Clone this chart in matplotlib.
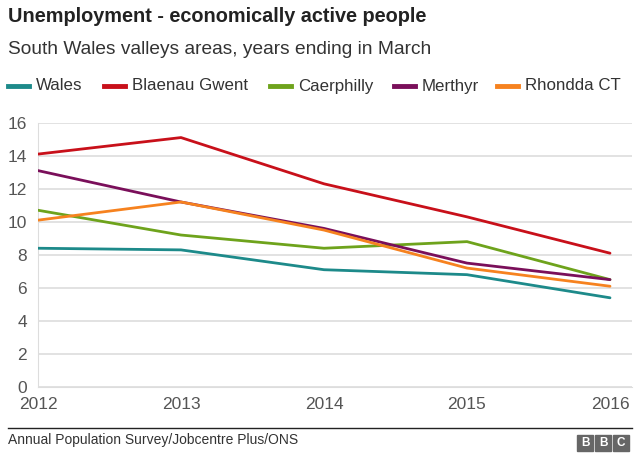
import matplotlib
matplotlib.use("Agg")
import matplotlib.pyplot as plt
from matplotlib.lines import Line2D
from matplotlib.patches import Rectangle

plt.rcParams['font.family'] = ['Liberation Sans', 'DejaVu Sans']

years = [2012, 2013, 2014, 2015, 2016]
series_names = ["Wales", "Blaenau Gwent", "Caerphilly", "Merthyr", "Rhondda CT"]
wales = [8.4, 8.3, 7.1, 6.8, 5.4]
blaenau = [14.1, 15.1, 12.3, 10.3, 8.1]
caerphilly = [10.7, 9.2, 8.4, 8.8, 6.5]
merthyr = [13.1, 11.2, 9.6, 7.5, 6.5]
rhondda = [10.1, 11.2, 9.5, 7.2, 6.1]
colors = ["#1d8a8a", "#c8101a", "#6ea31c", "#7a0f5a", "#f6821f"]
yticks = [0, 2, 4, 6, 8, 10, 12, 14, 16]

W, H = 640, 465
fig = plt.figure(figsize=(6.4, 4.65), dpi=100)
fig.patch.set_facecolor("white")

def fx(px): return px / W
def fy(py): return 1 - py / H

ax = fig.add_axes([fx(38), fy(387), fx(632 - 38), (387 - 122.7) / H])
data = [wales, blaenau, caerphilly, merthyr, rhondda]
for vals, c, n in zip(data, colors, series_names):
    ax.plot(years, vals, color=c, lw=2, label=n, solid_capstyle='round', zorder=3)

ax.set_xlim(2012, 2012 + (632 - 38) / 143.0)
ax.set_ylim(0, 16)
ax.set_yticks(yticks)
ax.set_xticks(years)
ax.set_xticklabels([str(y) for y in years])
ax.grid(axis='y', color='#dddddd', lw=1.2)
ax.set_axisbelow(True)
for s in ['top', 'right']:
    ax.spines[s].set_visible(False)
ax.spines['left'].set_color('#dddddd')
ax.spines['bottom'].set_color('#dddddd')
ax.tick_params(axis='both', length=0, labelsize=12.5, colors='#555555')
ax.tick_params(axis='x', pad=7)
ax.tick_params(axis='y', pad=8)

# Titles
fig.text(fx(8), fy(17), "Unemployment - economically active people", fontsize=14.3,
         fontweight='bold', color='#222222', va='center', ha='left')
fig.text(fx(8), fy(49), "South Wales valleys areas, years ending in March", fontsize=13.8,
         color='#333333', va='center', ha='left')

# Legend
leg_x = [8, 104, 270, 394, 497]
for x0, c, n in zip(leg_x, colors, series_names):
    fig.add_artist(Line2D([fx(x0), fx(x0 + 21)], [fy(86), fy(86)], color=c, lw=3.5,
                          transform=fig.transFigure))
    fig.text(fx(x0 + 28), fy(86), n, fontsize=12.2, color='#333333', va='center', ha='left')

# Footer
fig.add_artist(Line2D([fx(8), fx(632)], [fy(428), fy(428)], color='#222222', lw=1,
                      transform=fig.transFigure))
fig.text(fx(8), fy(440), "Annual Population Survey/Jobcentre Plus/ONS", fontsize=10,
         color='#333333', va='center', ha='left')
for i, letter in enumerate("BBC"):
    x0 = 577 + i * 18
    fig.add_artist(Rectangle((fx(x0), fy(451)), fx(16), 16 / H, color='#666666',
                             transform=fig.transFigure))
    fig.text(fx(x0 + 8), fy(443), letter, fontsize=8.5, fontweight='bold', color='white',
             va='center', ha='center')

fig.savefig("out.png", dpi=100)
